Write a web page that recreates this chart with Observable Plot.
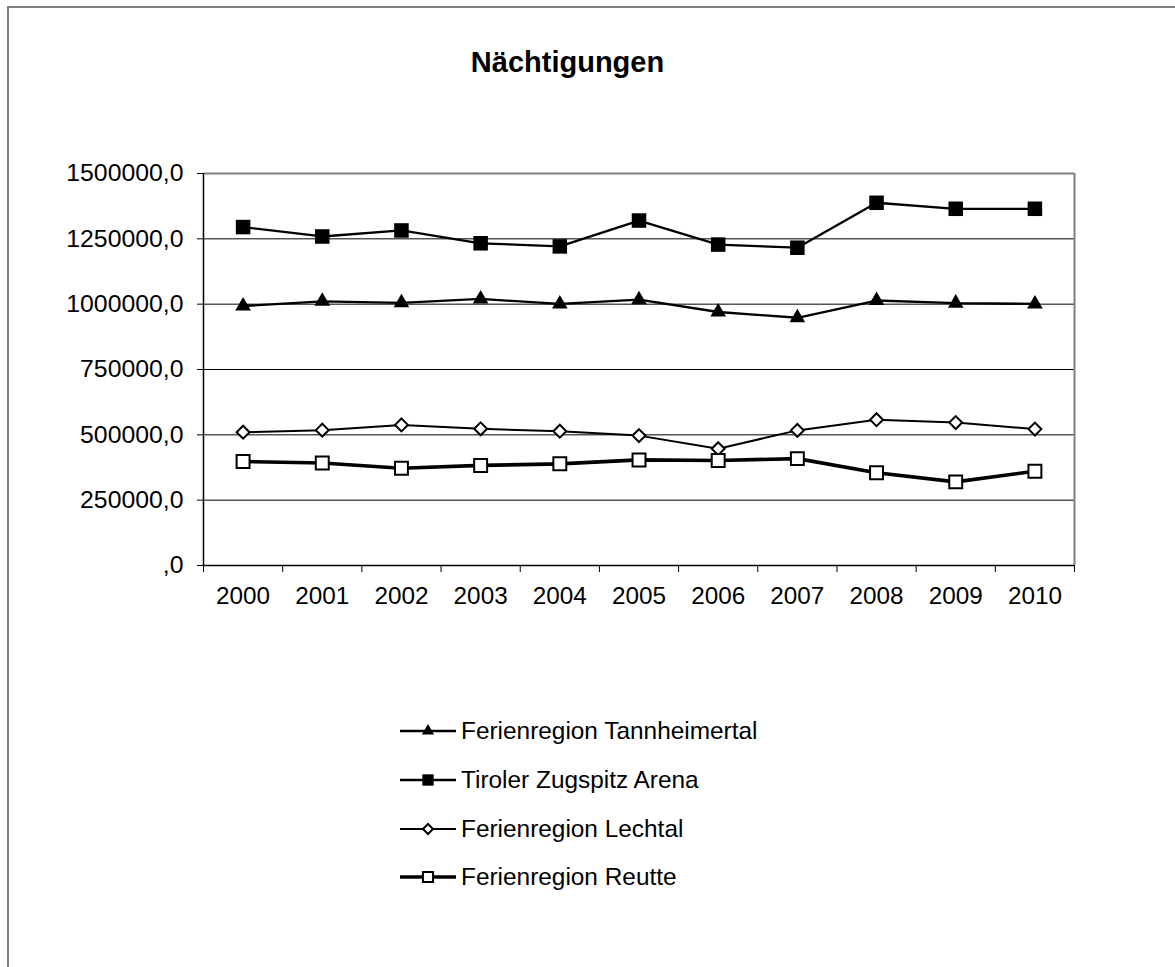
<!DOCTYPE html>
<html>
<head>
<meta charset="utf-8">
<script src="https://cdn.jsdelivr.net/npm/d3@7"></script>
<script src="https://cdn.jsdelivr.net/npm/@observablehq/plot@0.6"></script>
<style>
  html, body { margin: 0; padding: 0; background: #fff; width: 1175px; height: 967px; overflow: hidden; font-family: "Liberation Sans", Arial, sans-serif; }
  #border { position: absolute; left: 7px; top: 6px; width: 1300px; height: 1100px; border-top: 2px solid #808080; border-left: 2px solid #808080; box-sizing: border-box; }
  #title { position: absolute; left: 0; width: 1135px; top: 46px; text-align: center; font-weight: bold; font-size: 29px; color: #000; }
  #chart { position: absolute; left: 0; top: 0; }
  #legend { position: absolute; left: 398px; top: 707px; }
  .row { display: flex; align-items: center; height: 48.7px; font-size: 24.4px; color: #000; }
  .row svg { margin-right: 3px; }
</style>
</head>
<body>
<div id="border"></div>
<div id="title">Nächtigungen</div>
<div id="chart"></div>
<div id="legend"></div>
<script>
const years = [2000, 2001, 2002, 2003, 2004, 2005, 2006, 2007, 2008, 2009, 2010];
const seriesNames = ["Ferienregion Tannheimertal", "Tiroler Zugspitz Arena", "Ferienregion Lechtal", "Ferienregion Reutte"];
const tannheimertal = [993000, 1011000, 1005000, 1020000, 1001000, 1017000, 970000, 948000, 1014000, 1004000, 1001000];
const zugspitzArena = [1295000, 1259000, 1282000, 1233000, 1221000, 1320000, 1228000, 1216000, 1388000, 1365000, 1365000];
const lechtal = [510000, 518000, 538000, 523000, 514000, 497000, 447000, 517000, 558000, 547000, 522000];
const reutte = [398000, 392000, 372000, 383000, 389000, 404000, 402000, 409000, 355000, 320000, 361000];
const yTicks = [0, 250000, 500000, 750000, 1000000, 1250000, 1500000];

const values = [tannheimertal, zugspitzArena, lechtal, reutte];
const styles = [
  {symbol: "triangle", fill: "#000", r: 5.8, lineWidth: 2.3, dotStroke: "none", dotStrokeWidth: 0},
  {symbol: "square", fill: "#000", r: 8.2, lineWidth: 2.3, dotStroke: "none", dotStrokeWidth: 0},
  {symbol: "diamond2", fill: "#fff", r: 5.8, lineWidth: 2.0, dotStroke: "#000", dotStrokeWidth: 2},
  {symbol: "square", fill: "#fff", r: 7.3, lineWidth: 3.6, dotStroke: "#000", dotStrokeWidth: 2}
];
const data = seriesNames.map((name, i) => years.map((year, j) => ({name, year, value: values[i][j]})));
const boundaries = [...years.map(y => y - 0.5), years[years.length - 1] + 0.5];

const marks = [
  Plot.gridY(yTicks.filter(d => d > 0 && d < 1500000), {stroke: "#000", strokeOpacity: 1, strokeWidth: 1}),
  Plot.ruleY([yTicks[yTicks.length - 1]], {stroke: "#808080", strokeWidth: 2}),
  Plot.ruleX([boundaries[boundaries.length - 1]], {stroke: "#808080", strokeWidth: 2}),
  Plot.ruleX([boundaries[0]], {stroke: "#000", strokeWidth: 1.5}),
  Plot.ruleY([0], {stroke: "#000", strokeWidth: 1.5}),
  Plot.axisY({ticks: yTicks, tickFormat: d => d === 0 ? ",0" : d + ",0", tickSize: 6, tickPadding: 14, label: null, fontSize: 24.8}),
  Plot.axisX({ticks: boundaries, tickFormat: () => "", tickSize: 7, label: null}),
  Plot.axisX({ticks: years, tickFormat: d => String(d), tickSize: 0, tickPadding: 21, label: null, fontSize: 24.3})
];
data.forEach((rows, i) => {
  const s = styles[i];
  marks.push(Plot.line(rows, {x: "year", y: "value", stroke: "#000", strokeWidth: s.lineWidth}));
});
data.forEach((rows, i) => {
  const s = styles[i];
  marks.push(Plot.dot(rows, {x: "year", y: "value", symbol: s.symbol, r: s.r, fill: s.fill, stroke: s.dotStroke, strokeWidth: s.dotStrokeWidth}));
});

const chart = Plot.plot({
  width: 1175,
  height: 620,
  marginTop: 173,
  marginBottom: 55,
  marginLeft: 203,
  marginRight: 101,
  x: {domain: [boundaries[0], boundaries[boundaries.length - 1]]},
  y: {domain: [yTicks[0], yTicks[yTicks.length - 1]]},
  style: {fontFamily: "'Liberation Sans', Arial, sans-serif", fontSize: "24px", color: "#000", background: "transparent", overflow: "visible"},
  marks
});
document.getElementById("chart").appendChild(chart);

// legend
const legend = document.getElementById("legend");
seriesNames.forEach((name, i) => {
  const s = styles[i];
  const row = document.createElement("div");
  row.className = "row";
  const svg = d3.create("svg").attr("width", 60).attr("height", 24);
  svg.append("line").attr("x1", 2).attr("x2", 58).attr("y1", 12).attr("y2", 12)
    .attr("stroke", "#000").attr("stroke-width", s.lineWidth);
  const symMap = {triangle: d3.symbolTriangle, square: d3.symbolSquare, diamond2: d3.symbolDiamond2};
  const scale = 0.78;
  svg.append("path").attr("transform", "translate(30,12)")
    .attr("d", d3.symbol(symMap[s.symbol], s.r * s.r * Math.PI * scale * scale)())
    .attr("fill", s.fill).attr("stroke", s.dotStroke).attr("stroke-width", s.dotStrokeWidth);
  row.appendChild(svg.node());
  const span = document.createElement("span");
  span.textContent = name;
  row.appendChild(span);
  legend.appendChild(row);
});
</script>
</body>
</html>
